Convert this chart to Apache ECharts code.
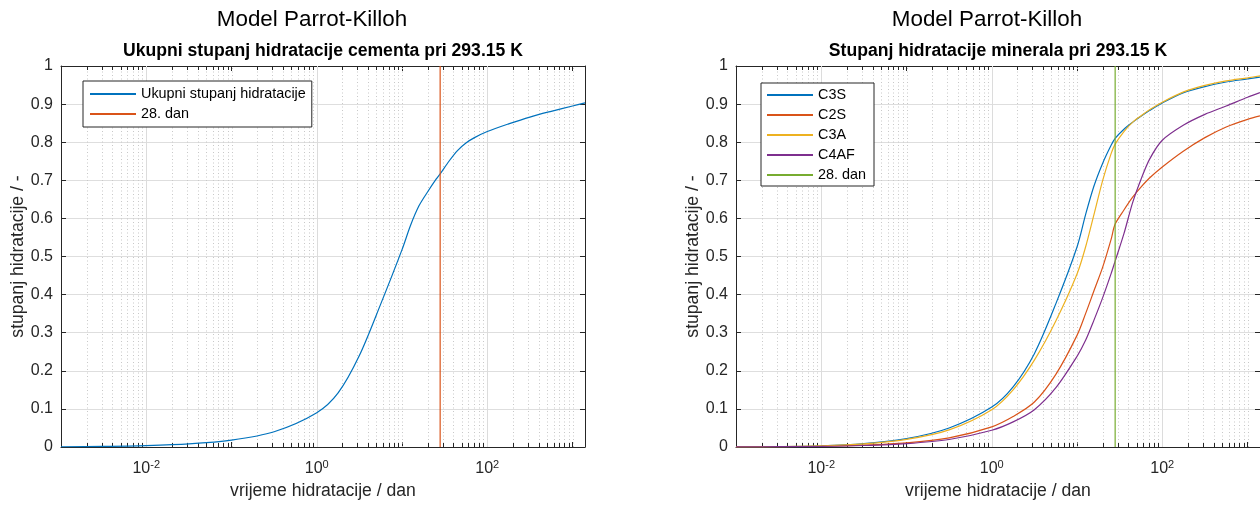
<!DOCTYPE html>
<html>
<head>
<meta charset="utf-8">
<script src="https://cdn.jsdelivr.net/npm/echarts@6/dist/echarts.min.js"></script>
<style>
html,body{margin:0;padding:0;background:#fff;}
#chart{width:1260px;height:505px;}
</style>
</head>
<body>
<div id="chart"></div>
<script>
// ---- data ----
var days = [0.001, 0.00316, 0.01, 0.0316, 0.1, 0.316, 1, 1.78, 3.16, 5.62, 10, 12.6, 15.8, 20, 25.1, 28, 35.5, 44.7, 56.2, 70.8, 100, 178, 316, 562, 1000, 1400];

var totalDegree = [0.0007, 0.0016, 0.0036, 0.008, 0.018, 0.04, 0.09, 0.142, 0.24, 0.375, 0.518, 0.582, 0.633, 0.67, 0.703, 0.717, 0.75, 0.778, 0.798, 0.812, 0.828, 0.848, 0.866, 0.881, 0.895, 0.903];

var c3s  = [0.0003, 0.001, 0.003, 0.009, 0.022, 0.05, 0.105, 0.158, 0.245, 0.375, 0.525, 0.61, 0.685, 0.745, 0.792, 0.81, 0.834, 0.852, 0.868, 0.883, 0.903, 0.93, 0.946, 0.958, 0.966, 0.971];
var c2s  = [0.0004, 0.0009, 0.002, 0.0047, 0.0106, 0.024, 0.053, 0.08, 0.118, 0.19, 0.293, 0.35, 0.41, 0.472, 0.545, 0.585, 0.622, 0.655, 0.682, 0.706, 0.735, 0.777, 0.812, 0.84, 0.86, 0.869];
var c3a  = [0.0003, 0.0009, 0.0027, 0.008, 0.02, 0.045, 0.098, 0.15, 0.228, 0.33, 0.454, 0.525, 0.61, 0.7, 0.77, 0.795, 0.828, 0.852, 0.869, 0.885, 0.905, 0.932, 0.949, 0.961, 0.969, 0.974];
var c4af = [0.0003, 0.0008, 0.0017, 0.0039, 0.0088, 0.0197, 0.044, 0.066, 0.098, 0.155, 0.238, 0.28, 0.333, 0.392, 0.455, 0.488, 0.56, 0.64, 0.702, 0.755, 0.805, 0.845, 0.873, 0.895, 0.918, 0.93];

var day28 = 28;
var xMinDay = 0.001, xMaxDay = 1400;
var majorExponents = [-2, 0, 2];          // labelled decades: 10^-2, 10^0, 10^2
var decadeExponents = [-3, -2, -1, 0, 1, 2, 3];
var minorMultipliers = [2, 3, 4, 5, 6, 7, 8, 9];

// ---- helpers (log10 scale of the time axis) ----
function lg(v){ return Math.log(v) / Math.LN10; }
function pairs(xs, ys){ return xs.map(function(x, i){ return [lg(x), ys[i]]; }); }
var xMin = lg(xMinDay), xMax = lg(xMaxDay);

// vertical grid positions: [exponent, 0, kind]  kind 2 = major solid, 1 = dotted decade, 0 = dotted minor
var vGrid = [];
decadeExponents.forEach(function(d){
  if (d > xMin + 1e-6 && d < xMax - 1e-6) vGrid.push([d, 0, majorExponents.indexOf(d) >= 0 ? 2 : 1]);
  minorMultipliers.forEach(function(k){
    var m = lg(k) + d;
    if (m > xMin + 1e-6 && m < xMax - 1e-6) vGrid.push([m, 0, 0]);
  });
});

var FONT = '"Liberation Sans", Arial, Helvetica, sans-serif';
var AX = '#262626';
var COL = {blue:'#0072BD', orange:'#D95319', yellow:'#EDB120', purple:'#7E2F8E', green:'#77AC30'};

function xAxisCfg(gridIndex, pos){
  var bottom = pos === 'bottom';
  return {
    type:'value', gridIndex:gridIndex, position:pos,
    min:xMin, max:xMax, interval:1,
    axisLine:{show:true, onZero:false, lineStyle:{color:AX, width:1}},
    axisTick:{show:true, inside:true, length:5, lineStyle:{color:AX}},
    splitLine:{show:false},
    axisLabel:{
      show:bottom, margin:12, showMinLabel:false, showMaxLabel:false,
      fontFamily:FONT, color:AX,
      formatter:function(v){
        var e = Math.round(v);
        if (Math.abs(v - e) > 1e-6 || majorExponents.indexOf(e) < 0) return '';
        return '{b|10}{s|' + e + '}';
      },
      rich:{
        b:{fontSize:16, lineHeight:20, fontFamily:FONT, color:AX},
        s:{fontSize:11, lineHeight:12, verticalAlign:'top', fontFamily:FONT, color:AX}
      }
    },
    name: bottom ? 'vrijeme hidratacije / dan' : '',
    nameLocation:'middle', nameGap:33,
    nameTextStyle:{fontSize:17.6, fontFamily:FONT, color:AX}
  };
}
function yAxisCfg(gridIndex, pos){
  var left = pos === 'left';
  return {
    type:'value', gridIndex:gridIndex, position:pos,
    min:0, max:1, interval:0.1,
    axisLine:{show:true, onZero:false, lineStyle:{color:AX, width:1}},
    axisTick:{show:true, inside:true, length:5, lineStyle:{color:AX}},
    splitLine:{show:left, lineStyle:{color:'#dedede', width:1}},
    axisLabel:{show:left, margin:8, fontSize:16, fontFamily:FONT, color:AX,
      formatter:function(v){ return String(Math.round(v*10)/10); }},
    name: left ? 'stupanj hidratacije / -' : '',
    nameLocation:'middle', nameGap:32, nameRotate:90,
    nameTextStyle:{fontSize:17.6, fontFamily:FONT, color:AX}
  };
}
function gridLines(xi, yi){
  return {
    type:'custom', xAxisIndex:xi, yAxisIndex:yi, silent:true, z:1,
    data:vGrid, encode:{x:0, y:1},
    renderItem:function(params, api){
      var v = api.value(0), kind = api.value(2);
      var p0 = api.coord([v, 0]);
      var p1 = api.coord([v, 1]);
      var x = Math.round(p0[0]) + 0.5;
      var children = [];
      if (kind === 2) {
        children.push({type:'line', shape:{x1:x, y1:p0[1], x2:x, y2:p1[1]}, style:{stroke:'#dcdcdc', lineWidth:1}});
      } else {
        children.push({type:'line', shape:{x1:x, y1:p0[1], x2:x, y2:p1[1]}, style:{stroke:'#c8c8c8', lineWidth:1, lineDash:[1,2.5]}});
      }
      if (kind === 0) {
        children.push({type:'line', shape:{x1:x, y1:p0[1], x2:x, y2:p0[1]-4}, style:{stroke:AX, lineWidth:1}});
        children.push({type:'line', shape:{x1:x, y1:p1[1], x2:x, y2:p1[1]+4}, style:{stroke:AX, lineWidth:1}});
      }
      return {type:'group', children:children};
    }
  };
}
function curve(name, ys, color, xi, yi){
  return {
    type:'line', name:name, xAxisIndex:xi, yAxisIndex:yi,
    data:pairs(days, ys), showSymbol:false, symbol:'none',
    smooth:0.3, z:3,
    lineStyle:{color:color, width:1.2}, itemStyle:{color:color}
  };
}
function vline(name, color, xi, yi){
  return {
    type:'line', name:name, xAxisIndex:xi, yAxisIndex:yi,
    data:[[lg(day28), 0], [lg(day28), 1]], showSymbol:false, symbol:'none', z:3,
    lineStyle:{color:color, width:1.2}, itemStyle:{color:color}
  };
}

var chart = echarts.init(document.getElementById('chart'), null, {renderer:'canvas'});
var titleFull = {fontSize:22.4, lineHeight:27, fontWeight:'normal', fontFamily:FONT, color:'#000'};
var titleSub = {fontSize:17.6, lineHeight:21, fontWeight:'bold', fontFamily:FONT, color:'#000'};
var legendBase = {
  orient:'vertical', itemWidth:46, itemHeight:16, itemGap:4,
  borderColor:AX, borderWidth:1, backgroundColor:'#fff', borderRadius:0,
  itemStyle:{opacity:0},
  textStyle:{fontSize:14.4, lineHeight:16, fontFamily:FONT, color:'#000'},
  selectedMode:false
};

chart.setOption({
  animation:false,
  backgroundColor:'#fff',
  title:[
    {text:'Model Parrot-Killoh', left:312, top:6.5, textAlign:'center', padding:0, textStyle:titleFull},
    {text:'Ukupni stupanj hidratacije cementa pri 293.15 K', left:323, top:40.5, textAlign:'center', padding:0, textStyle:titleSub},
    {text:'Model Parrot-Killoh', left:987, top:6.5, textAlign:'center', padding:0, textStyle:titleFull},
    {text:'Stupanj hidratacije minerala pri 293.15 K', left:998, top:40.5, textAlign:'center', padding:0, textStyle:titleSub}
  ],
  grid:[
    {left:61, top:66, width:524, height:381, containLabel:false},
    {left:736, top:66, width:524, height:381, containLabel:false}
  ],
  xAxis:[xAxisCfg(0,'bottom'), xAxisCfg(0,'top'), xAxisCfg(1,'bottom'), xAxisCfg(1,'top')],
  yAxis:[yAxisCfg(0,'left'), yAxisCfg(0,'right'), yAxisCfg(1,'left'), yAxisCfg(1,'right')],
  legend:[
    Object.assign({}, legendBase, {left:83, top:81, padding:[5,6,5,6],
      data:['Ukupni stupanj hidratacije', '28. dan']}),
    Object.assign({}, legendBase, {left:761, top:83, padding:[4,8,3,5],
      data:['C3S', 'C2S', 'C3A', 'C4AF',
        {name:'28. dan', itemStyle:{color:COL.green, opacity:0}, lineStyle:{color:COL.green}}]})
  ],
  series:[
    gridLines(0, 0),
    curve('Ukupni stupanj hidratacije', totalDegree, COL.blue, 0, 0),
    vline('28. dan', COL.orange, 0, 0),
    gridLines(2, 2),
    curve('C3S', c3s, COL.blue, 2, 2),
    curve('C2S', c2s, COL.orange, 2, 2),
    curve('C3A', c3a, COL.yellow, 2, 2),
    curve('C4AF', c4af, COL.purple, 2, 2),
    vline('28. dan', COL.green, 2, 2)
  ]
});
</script>
</body>
</html>
